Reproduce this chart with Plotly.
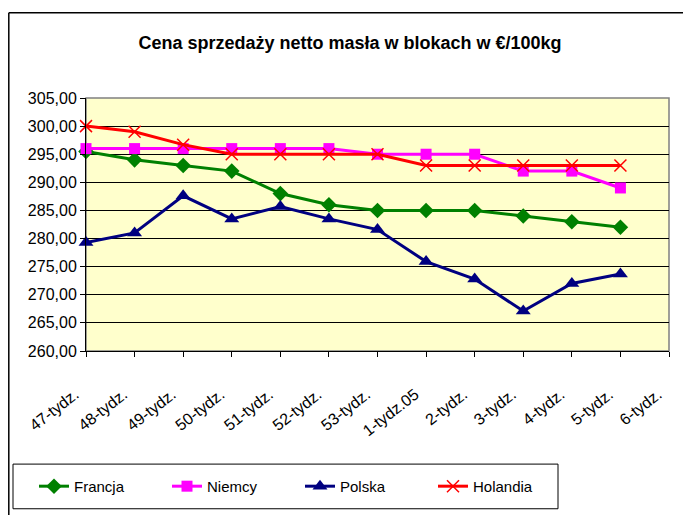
import plotly.graph_objects as go

categories = ["47-tydz.", "48-tydz.", "49-tydz.", "50-tydz.", "51-tydz.", "52-tydz.",
              "53-tydz.", "1-tydz.05", "2-tydz.", "3-tydz.", "4-tydz.", "5-tydz.", "6-tydz."]
francja = [295.5, 294.0, 293.0, 292.0, 288.0, 286.0, 285.0, 285.0, 285.0, 284.0, 283.0, 282.0]
niemcy = [296.0, 296.0, 296.0, 296.0, 296.0, 296.0, 295.0, 295.0, 295.0, 292.0, 292.0, 289.0]
polska = [279.3, 281.0, 287.6, 283.5, 285.7, 283.5, 281.6, 275.9, 272.8, 267.1, 272.0, 273.7]
holandia = [300.0, 299.0, 296.7, 295.0, 295.0, 295.0, 295.0, 293.0, 293.0, 293.0, 293.0, 293.0]
y_ticks = [260, 265, 270, 275, 280, 285, 290, 295, 300, 305]

FONT = "Liberation Sans, Arial, sans-serif"
OFF = 8  # default page body margin
W, H = 691 - OFF, 515 - OFF
L, T = 86 - OFF, 98 - OFF
R = W - (669 - OFF)
B = H - (353 - OFF)
pw, ph = W - L - R, H - T - B

fig = go.Figure()
series = [
    ("Francja", francja, "#008000", dict(symbol="diamond", size=12, color="#008000")),
    ("Niemcy", niemcy, "#FF00FF", dict(symbol="square", size=11, color="#FF00FF")),
    ("Polska", polska, "#000080", dict(symbol="triangle-up", size=13, color="#000080")),
    ("Holandia", holandia, "#FF0000", dict(symbol="x-thin", size=12, color="#FF0000",
                                           line=dict(color="#FF0000", width=1.5))),
]
for name, vals, col, mk in series:
    fig.add_trace(go.Scatter(
        x=categories[:len(vals)], y=vals, name=name, mode="lines+markers",
        line=dict(color=col, width=3), marker=mk, cliponaxis=False,
    ))

def px_x(p):
    return (p - OFF - L) / pw

def px_y(p):
    return (H - B - (p - OFF)) / ph

# plot-area border (gray), outer chart border, legend box
fig.add_shape(type="rect", xref="paper", yref="paper", x0=0, x1=1, y0=0, y1=1,
              line=dict(color="#808080", width=1.5), layer="below")
fig.add_shape(type="line", xref="paper", yref="paper", x0=px_x(8.8), x1=px_x(700),
              y0=px_y(12), y1=px_y(12), line=dict(color="black", width=1.5))
fig.add_shape(type="line", xref="paper", yref="paper", x0=px_x(8.8), x1=px_x(8.8),
              y0=px_y(12), y1=px_y(520), line=dict(color="black", width=1.5))
fig.add_shape(type="rect", xref="paper", yref="paper", x0=px_x(13), x1=px_x(558),
              y0=px_y(512), y1=px_y(467), line=dict(color="black", width=1),
              fillcolor="white", layer="below")

fig.update_layout(
    width=W, height=H,
    margin=dict(l=L, r=R, t=T, b=B),
    paper_bgcolor="white", plot_bgcolor="#FFFFCC",
    separators=", ",
    font=dict(family=FONT, color="black"),
    title=dict(text="<b>Cena sprzedaży netto masła w blokach w €/100kg</b>",
               x=(350 - OFF) / W, xref="container", xanchor="center",
               y=1 - (43 - OFF) / H, yref="container", yanchor="middle",
               font=dict(family=FONT, size=18, color="black")),
    xaxis=dict(type="category", categoryorder="array", categoryarray=categories,
               range=[0, 12], showgrid=False, showline=True, linecolor="black", linewidth=1,
               ticks="outside", ticklen=5, tickcolor="black", tickangle=-38,
               ticklabelstandoff=22, ticklabelshift=-11,
               tickfont=dict(family=FONT, size=16), zeroline=False, automargin=False),
    yaxis=dict(range=[260, 305], tickvals=y_ticks, tickformat=".2f",
               showgrid=True, gridcolor="black", gridwidth=1,
               showline=True, linecolor="black", linewidth=1,
               ticks="outside", ticklen=5, tickcolor="black",
               tickfont=dict(family=FONT, size=16), zeroline=False, automargin=False),
    legend=dict(orientation="h", x=px_x(34), y=px_y(489.5), xanchor="left", yanchor="middle",
                borderwidth=0, bgcolor="rgba(0,0,0,0)",
                font=dict(family=FONT, size=15),
                entrywidth=88, entrywidthmode="pixels"),
    showlegend=True,
)

fig.write_html("out.html")
